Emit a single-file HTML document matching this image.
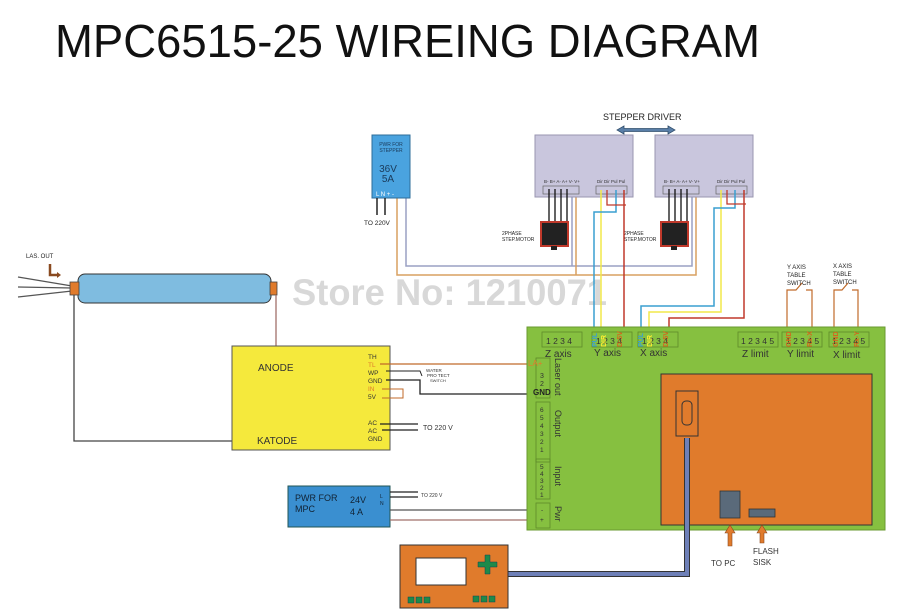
<!DOCTYPE html>
<html><head><meta charset="utf-8"><style>
body{margin:0;background:#fff;width:899px;height:614px;overflow:hidden}
svg{display:block;font-family:"Liberation Sans",sans-serif}
</style></head><body>
<svg width="899" height="614" viewBox="0 0 899 614" xmlns="http://www.w3.org/2000/svg">
<text x="55" y="57" font-size="46" fill="#111" textLength="705" lengthAdjust="spacingAndGlyphs">MPC6515-25 WIREING DIAGRAM</text>

<!-- watermark -->
<text x="292" y="305" font-size="37" font-weight="bold" fill="#d8d8d8" textLength="315" lengthAdjust="spacingAndGlyphs">Store No: 1210071</text>

<!-- stepper driver label -->
<text x="603" y="120" font-size="9" fill="#222">STEPPER DRIVER</text>
<path d="M617 130 L624 126 L624 128.5 L668 128.5 L668 126 L675 130 L668 134 L668 131.5 L624 131.5 L624 134 Z" fill="#5a7fa8" stroke="#33506e" stroke-width="0.8"/>

<!-- wires from stepper PSU -->
<polyline points="406,197 406,266 692,266 692,193" fill="none" stroke="#9aa0c4" stroke-width="1.5"/>
<line x1="572" y1="193" x2="572" y2="266" stroke="#9aa0c4" stroke-width="1.5"/>
<polyline points="397,197 397,275 696,275 696,193" fill="none" stroke="#d9a060" stroke-width="1.5"/>
<line x1="576" y1="193" x2="576" y2="275" stroke="#d9a060" stroke-width="1.5"/>

<!-- PSU stepper -->
<rect x="372" y="135" width="38" height="63" fill="#4aa3df" stroke="#2d6d9a" stroke-width="1"/>
<text x="391" y="146" font-size="5" fill="#1a3a5a" text-anchor="middle">PWR FOR</text>
<text x="391" y="152" font-size="5" fill="#1a3a5a" text-anchor="middle">STEPPER</text>
<text x="388" y="172" font-size="10" fill="#1a3a5a" text-anchor="middle">36V</text>
<text x="388" y="182" font-size="10" fill="#1a3a5a" text-anchor="middle">5A</text>
<text x="376" y="196" font-size="6" fill="#fff">L N  + -</text>
<line x1="377" y1="198" x2="377" y2="215" stroke="#222" stroke-width="1.5"/>
<line x1="385" y1="198" x2="385" y2="215" stroke="#222" stroke-width="1.5"/>
<text x="364" y="225" font-size="6.5" fill="#222">TO 220V</text>

<!-- drivers -->
<g>
<rect x="535" y="135" width="98" height="62" fill="#c9c6dd" stroke="#9996b0"/>
<rect x="543" y="186" width="36" height="8" fill="none" stroke="#666" stroke-width="0.7"/>
<rect x="596" y="186" width="31" height="8" fill="none" stroke="#666" stroke-width="0.7"/>
<text x="544" y="183" font-size="4.5" fill="#333">B- B+ A- A+ V- V+</text>
<text x="597" y="183" font-size="4.5" fill="#333">Dir Dir Pul Pul</text>
<rect x="655" y="135" width="98" height="62" fill="#c9c6dd" stroke="#9996b0"/>
<rect x="663" y="186" width="36" height="8" fill="none" stroke="#666" stroke-width="0.7"/>
<rect x="716" y="186" width="31" height="8" fill="none" stroke="#666" stroke-width="0.7"/>
<text x="664" y="183" font-size="4.5" fill="#333">B- B+ A- A+ V- V+</text>
<text x="717" y="183" font-size="4.5" fill="#333">Dir Dir Pul Pul</text>
</g>
<!-- motor wires -->
<g stroke="#111" stroke-width="1.3">
<line x1="549" y1="189" x2="549" y2="222"/><line x1="555" y1="189" x2="555" y2="222"/><line x1="561" y1="189" x2="561" y2="222"/><line x1="567" y1="189" x2="567" y2="222"/>
<line x1="669" y1="189" x2="669" y2="222"/><line x1="675" y1="189" x2="675" y2="222"/><line x1="681" y1="189" x2="681" y2="222"/><line x1="687" y1="189" x2="687" y2="222"/>
</g>
<rect x="541" y="222" width="27" height="24" fill="#222" stroke="#c0392b" stroke-width="2"/>
<rect x="551" y="246" width="6" height="4" fill="#222"/>
<rect x="661" y="222" width="27" height="24" fill="#222" stroke="#c0392b" stroke-width="2"/>
<rect x="671" y="246" width="6" height="4" fill="#222"/>
<text x="502" y="235" font-size="5" fill="#222">2PHASE</text><text x="502" y="241" font-size="5" fill="#222">STEP.MOTOR</text>
<text x="624" y="235" font-size="5" fill="#222">2PHASE</text><text x="624" y="241" font-size="5" fill="#222">STEP.MOTOR</text>

<!-- signal wires driver1 -> Y axis -->
<polyline points="601,190 601,332" fill="none" stroke="#f2e84a" stroke-width="1.5"/>
<polyline points="616,190 616,212 594,212 594,332" fill="none" stroke="#3a9fd0" stroke-width="1.5"/>
<polyline points="607,190 607,205 626,205" fill="none" stroke="#c0392b" stroke-width="1.3"/>
<polyline points="624,190 624,332" fill="none" stroke="#c0392b" stroke-width="1.5"/>
<!-- driver2 -> X axis -->
<polyline points="721,190 721,312 649,312 649,332" fill="none" stroke="#f2e84a" stroke-width="1.5"/>
<polyline points="735,190 735,208 714,208 714,306 641,306 641,332" fill="none" stroke="#3a9fd0" stroke-width="1.5"/>
<polyline points="727,190 727,204 746,204" fill="none" stroke="#c0392b" stroke-width="1.3"/>
<polyline points="744,190 744,318 669,318 669,332" fill="none" stroke="#c0392b" stroke-width="1.5"/>

<!-- limit switch wires -->
<polyline points="787,336 787,290 796,290 802,283" fill="none" stroke="#c06a2a" stroke-width="1.2"/>
<polyline points="806,290 812,290 812,336" fill="none" stroke="#c06a2a" stroke-width="1.2"/>
<polyline points="834,336 834,290 842,290 848,283" fill="none" stroke="#c06a2a" stroke-width="1.2"/>
<polyline points="852,290 858,290 858,336" fill="none" stroke="#c06a2a" stroke-width="1.2"/>
<text x="787" y="269" font-size="6" fill="#222">Y AXIS</text><text x="787" y="277" font-size="6" fill="#222">TABLE</text><text x="787" y="285" font-size="6" fill="#222">SWITCH</text>
<text x="833" y="268" font-size="6" fill="#222">X AXIS</text><text x="833" y="276" font-size="6" fill="#222">TABLE</text><text x="833" y="284" font-size="6" fill="#222">SWITCH</text>

<!-- tube -->
<g stroke="#555" stroke-width="1.3">
<line x1="18" y1="277" x2="72" y2="286"/><line x1="18" y1="287" x2="72" y2="288"/><line x1="18" y1="297" x2="72" y2="291"/>
</g>
<text x="26" y="258" font-size="6" fill="#222">LAS. OUT</text>
<path d="M50 264 L50 275 L58 275" fill="none" stroke="#8a4a20" stroke-width="2.5"/>
<path d="M57 272 L61 275 L57 278 Z" fill="#8a4a20"/>
<rect x="78" y="274" width="193" height="29" rx="7" fill="#7fbce0" stroke="#333" stroke-width="1"/>
<rect x="70" y="282" width="9" height="13" fill="#e07b2c" stroke="#444" stroke-width="0.8"/>
<rect x="270" y="282" width="7" height="13" fill="#e07b2c" stroke="#444" stroke-width="0.8"/>
<polyline points="74,295 74,441 262,441" fill="none" stroke="#444" stroke-width="1.3"/>
<line x1="276" y1="295" x2="276" y2="366" stroke="#a0706a" stroke-width="1.3"/>

<!-- laser PSU -->
<rect x="232" y="346" width="158" height="104" fill="#f5e93c" stroke="#555" stroke-width="1"/>
<text x="258" y="371" font-size="10" fill="#333">ANODE</text>
<text x="257" y="444" font-size="10" fill="#333">KATODE</text>
<g font-size="6.5" fill="#333">
<text x="368" y="359">TH</text><text x="368" y="367" fill="#e07b2c">TL</text><text x="368" y="375">WP</text><text x="368" y="383">GND</text>
<text x="368" y="391" fill="#e07b2c">IN</text><text x="368" y="399">5V</text>
<text x="368" y="425">AC</text><text x="368" y="433">AC</text><text x="368" y="441">GND</text>
</g>
<line x1="380" y1="364" x2="536" y2="364" stroke="#c06a2a" stroke-width="1.3"/>
<polyline points="386,371 420,371 422,376" fill="none" stroke="#222" stroke-width="1"/>
<polyline points="386,380 420,380 420,394 536,394" fill="none" stroke="#222" stroke-width="1.3"/>
<polyline points="382,389 403,389 403,398 382,398" fill="none" stroke="#c06a2a" stroke-width="1"/>
<text x="426" y="372" font-size="4.5" fill="#333">WATER</text><text x="427" y="377" font-size="4.5" fill="#333">PRO TECT</text><text x="430" y="382" font-size="4" fill="#333">SWITCH</text>
<line x1="380" y1="424" x2="418" y2="424" stroke="#222" stroke-width="1.3"/>
<line x1="382" y1="430" x2="418" y2="430" stroke="#222" stroke-width="1.3"/>
<text x="423" y="430" font-size="7" fill="#333">TO 220 V</text>
<line x1="536" y1="383" x2="546" y2="383" stroke="#c06a2a" stroke-width="1"/>

<!-- MPC PSU -->
<rect x="288" y="486" width="102" height="41" fill="#3a8fd0" stroke="#255" stroke-width="1"/>
<text x="295" y="501" font-size="9" fill="#123">PWR FOR</text><text x="295" y="512" font-size="9" fill="#123">MPC</text>
<text x="350" y="503" font-size="9" fill="#123">24V</text><text x="350" y="515" font-size="9" fill="#123">4 A</text>
<text x="380" y="498" font-size="5" fill="#123">L</text><text x="380" y="505" font-size="5" fill="#123">N</text>
<line x1="390" y1="492" x2="418" y2="492" stroke="#222" stroke-width="1.2"/>
<line x1="390" y1="497" x2="418" y2="497" stroke="#222" stroke-width="1.2"/>
<text x="421" y="497" font-size="5" fill="#333">TO 220 V</text>
<line x1="390" y1="510" x2="538" y2="510" stroke="#555" stroke-width="1.3"/>
<line x1="390" y1="520" x2="538" y2="520" stroke="#a0706a" stroke-width="1.3"/>

<!-- green board -->
<rect x="527" y="327" width="358" height="203" fill="#86c040" stroke="#6a9a30" stroke-width="1"/>
<g fill="none" stroke="#5e8a2a" stroke-width="0.8">
<rect x="542" y="332" width="40" height="15"/><rect x="592" y="332" width="40" height="15"/><rect x="638" y="332" width="40" height="15"/>
<rect x="738" y="332" width="40" height="15"/><rect x="782" y="332" width="40" height="15"/><rect x="829" y="332" width="40" height="15"/>
<rect x="536" y="358" width="14" height="40"/><rect x="536" y="402" width="14" height="60"/><rect x="536" y="459" width="14" height="40"/><rect x="536" y="503" width="14" height="25"/>
</g>
<g font-size="8.5" fill="#333">
<text x="546" y="344">1 2 3 4</text><text x="596" y="344">1 2 3 4</text><text x="642" y="344">1 2 3 4</text>
<text x="741" y="344">1 2 3 4 5</text><text x="786" y="344">1 2 3 4 5</text><text x="832" y="344">1 2 3 4 5</text>
</g>
<g font-size="10" fill="#333">
<text x="545" y="357">Z axis</text><text x="594" y="356">Y axis</text><text x="640" y="356">X axis</text>
<text x="742" y="357">Z limit</text><text x="787" y="357">Y limit</text><text x="833" y="358">X limit</text>
</g>
<g font-size="7" font-weight="bold">
<text transform="translate(597,347) rotate(-90)" fill="#3a9fd0">PUL</text>
<text transform="translate(606,347) rotate(-90)" fill="#ffee30">DIR</text>
<text transform="translate(622,347) rotate(-90)" fill="#d2691e">D:5V</text>
<text transform="translate(643,347) rotate(-90)" fill="#3a9fd0">PUL</text>
<text transform="translate(652,347) rotate(-90)" fill="#ffee30">DIR</text>
<text transform="translate(668,347) rotate(-90)" fill="#d2691e">D:5V</text>
<text transform="translate(791,347) rotate(-90)" fill="#d2691e">GND</text>
<text transform="translate(812,347) rotate(-90)" fill="#d2691e">Rx-X</text>
<text transform="translate(838,347) rotate(-90)" fill="#d2691e">GND</text>
<text transform="translate(859,347) rotate(-90)" fill="#d2691e">Rx-Y</text>
</g>
<text x="528" y="366" font-size="8" fill="#e07b2c">LA+</text>
<text x="540" y="378" font-size="7" fill="#333">3</text><text x="540" y="386" font-size="7" fill="#333">2</text>
<text x="533" y="395" font-size="8" font-weight="bold" fill="#222">GND</text>
<g font-size="6.5" fill="#333"><text x="540" y="412">6</text><text x="540" y="420">5</text><text x="540" y="428">4</text><text x="540" y="436">3</text><text x="540" y="444">2</text><text x="540" y="452">1</text>
<text x="540" y="469">5</text><text x="540" y="476">4</text><text x="540" y="483">3</text><text x="540" y="490">2</text><text x="540" y="497">1</text>
<text x="541" y="512">-</text><text x="540" y="522">+</text></g>
<g font-size="9" fill="#333">
<text transform="translate(555,358) rotate(90)">Laser out</text>
<text transform="translate(555,410) rotate(90)">Output</text>
<text transform="translate(555,466) rotate(90)">Input</text>
<text transform="translate(555,506) rotate(90)">Pwr</text>
</g>

<!-- orange inner -->
<rect x="661" y="374" width="211" height="151" fill="#e07b2c" stroke="#333" stroke-width="1"/>
<rect x="676" y="391" width="22" height="45" fill="none" stroke="#333" stroke-width="1"/>
<rect x="682" y="401" width="10" height="24" rx="4" fill="none" stroke="#333" stroke-width="1"/>
<rect x="720" y="491" width="20" height="27" fill="#5a6a7a" stroke="#333" stroke-width="0.8"/>
<rect x="749" y="509" width="26" height="8" fill="#5a6a7a" stroke="#333" stroke-width="0.8"/>
<polyline points="687,438 687,574 507,574" fill="none" stroke="#333" stroke-width="6"/>
<polyline points="687,438 687,574 507,574" fill="none" stroke="#6e80b8" stroke-width="4"/>
<!-- arrows -->
<path d="M730 525 L735 533 L732 533 L732 546 L728 546 L728 533 L725 533 Z" fill="#e07b2c" stroke="#8a4a20" stroke-width="0.6"/>
<path d="M762 525 L767 533 L764 533 L764 543 L760 543 L760 533 L757 533 Z" fill="#e07b2c" stroke="#8a4a20" stroke-width="0.6"/>
<text x="711" y="566" font-size="8" fill="#333">TO PC</text>
<text x="753" y="554" font-size="8" fill="#333">FLASH</text><text x="753" y="565" font-size="8" fill="#333">SISK</text>

<!-- controller -->
<rect x="400" y="545" width="108" height="63" fill="#e07b2c" stroke="#333" stroke-width="1"/>
<rect x="416" y="558" width="50" height="27" fill="#fff" stroke="#333" stroke-width="1"/>
<path d="M485 555 h5 v7 h7 v5 h-7 v7 h-5 v-7 h-7 v-5 h7 z" fill="#1e8a4a" stroke="#145" stroke-width="0.5"/>
<g fill="#1e8a4a" stroke="#145" stroke-width="0.5">
<rect x="408" y="597" width="6" height="6"/><rect x="416" y="597" width="6" height="6"/><rect x="424" y="597" width="6" height="6"/>
<rect x="473" y="596" width="6" height="6"/><rect x="481" y="596" width="6" height="6"/><rect x="489" y="596" width="6" height="6"/>
</g>
</svg>
</body></html>
